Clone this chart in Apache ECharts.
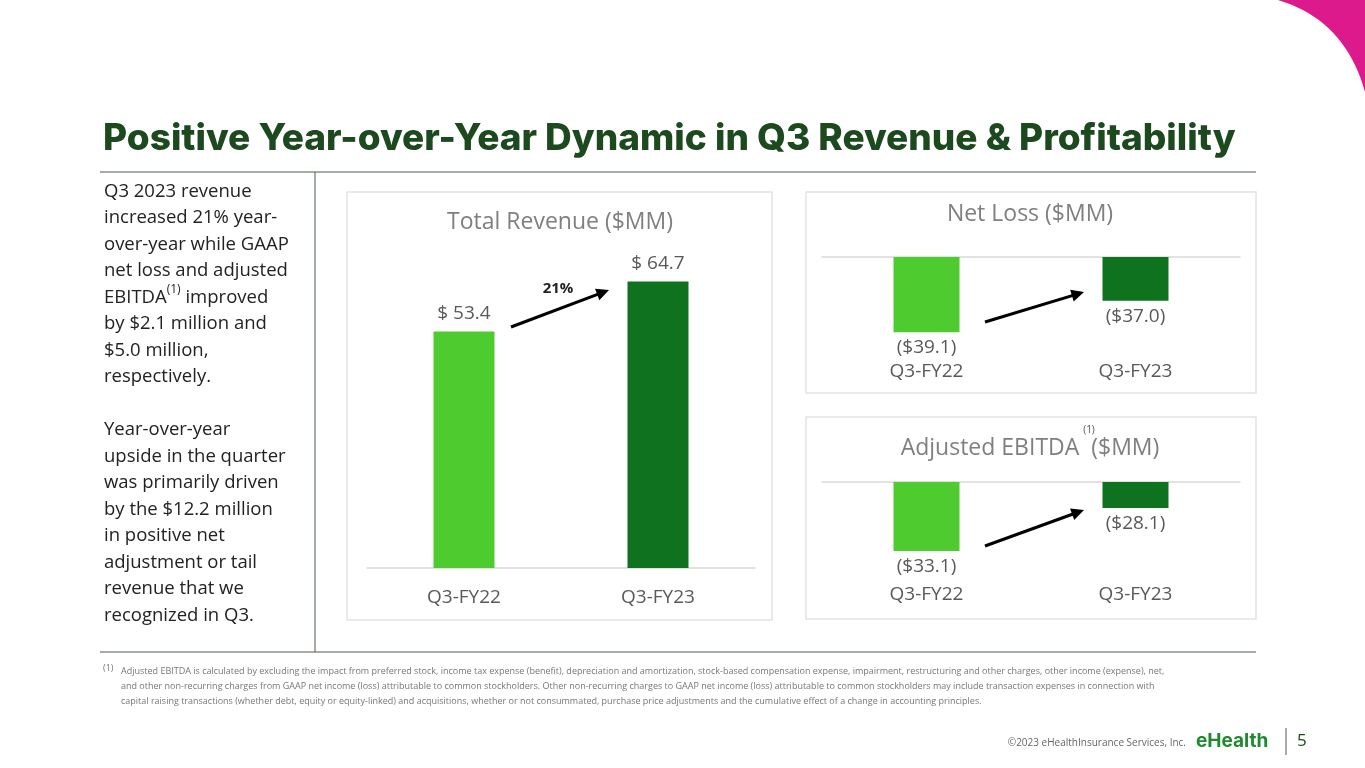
<!DOCTYPE html>
<html><head><meta charset="utf-8">
<script src="https://cdn.jsdelivr.net/npm/echarts@6/dist/echarts.min.js"></script>
<style>html,body{margin:0;padding:0;background:#fff}#c{width:1365px;height:768px}</style>
</head><body><div id="c"></div>
<script>
// data
const categories = ['Q3-FY22', 'Q3-FY23'];
const revenue = [53.4, 64.7];
const netLoss = [-39.1, -37.0];
const adjEbitda = [-33.1, -28.1];
const colors = ['#4ECB2F', '#0E721F'];

let chart = echarts.init(document.getElementById('c'));
const F = '"Open Sans", sans-serif';
const gray = '#595959';

function barData(vals) {
    return vals.map((v, i) => ({ value: v, itemStyle: { color: colors[i] } }));
}
function negLabel(p) {
    return '($' + Math.abs(p.value).toFixed(1) + ')';
}
function arrow(x1, y1, x2, y2) {
    const a = Math.atan2(y2 - y1, x2 - x1), L = 14, W = 0.45;
    return [
        { type: 'line', shape: { x1: x1, y1: y1, x2: x2 - 8 * Math.cos(a), y2: y2 - 8 * Math.sin(a) }, style: { stroke: '#000', lineWidth: 3 } },
        { type: 'polygon', shape: { points: [[x2, y2], [x2 - L * Math.cos(a - W), y2 - L * Math.sin(a - W)], [x2 - L * Math.cos(a + W), y2 - L * Math.sin(a + W)]] }, style: { fill: '#000' } }
    ];
}
const panel = (x, y, w, h) => ({ type: 'rect', shape: { x: x, y: y, width: w, height: h }, style: { fill: 'none', stroke: '#e3e3e3', lineWidth: 1.5 }, z: -1 });

// corner decoration outline (quadratic curve)
const corner = [[1365, 0], [1365, 92]];
for (let t = 0; t <= 1.0001; t += 0.05) {
    const x = (1 - t) * (1 - t) * 1365 + 2 * (1 - t) * t * 1345 + t * t * 1278;
    const y = (1 - t) * (1 - t) * 92 + 2 * (1 - t) * t * 20 + t * t * 0;
    corner.push([x, y]);
}

const leftText = 'Q3 2023 revenue\nincreased 21% year-\nover-year while GAAP\nnet loss and adjusted\nEBITDA{s|(1)} improved\nby $2.1 million and\n$5.0 million,\nrespectively.\n\nYear-over-year\nupside in the quarter\nwas primarily driven\nby the $12.2 million\nin positive net\nadjustment or tail\nrevenue that we\nrecognized in Q3.';
const foot = 'Adjusted EBITDA is calculated by excluding the impact from preferred stock, income tax expense (benefit), depreciation and amortization, stock-based compensation expense, impairment, restructuring and other charges, other income (expense), net,\nand other non-recurring charges from GAAP net income (loss) attributable to common stockholders. Other non-recurring charges to GAAP net income (loss) attributable to common stockholders may include transaction expenses in connection with\ncapital raising transactions (whether debt, equity or equity-linked) and acquisitions, whether or not consummated, purchase price adjustments and the cumulative effect of a change in accounting principles.';

const option = {
    animation: false,
    textStyle: { fontFamily: F },
    grid: [
        { left: 367, top: 258, width: 388, height: 310 },
        { left: 822, top: 257, width: 418, height: 88.6 },
        { left: 822, top: 482, width: 418, height: 85.3 }
    ],
    xAxis: [
        { gridIndex: 0, type: 'category', data: categories, axisTick: { show: false }, axisLine: { lineStyle: { color: '#d9d9d9', width: 1.5 } }, axisLabel: { color: gray, fontSize: 19, margin: 20 } },
        { gridIndex: 1, type: 'category', position: 'top', data: categories, axisTick: { show: false }, axisLine: { lineStyle: { color: '#d9d9d9', width: 1.5 } }, axisLabel: { show: false } },
        { gridIndex: 1, type: 'category', position: 'bottom', data: categories, axisTick: { show: false }, axisLine: { show: false }, axisLabel: { color: gray, fontSize: 19, margin: 16 } },
        { gridIndex: 2, type: 'category', position: 'top', data: categories, axisTick: { show: false }, axisLine: { lineStyle: { color: '#d9d9d9', width: 1.5 } }, axisLabel: { show: false } },
        { gridIndex: 2, type: 'category', position: 'bottom', data: categories, axisTick: { show: false }, axisLine: { show: false }, axisLabel: { color: gray, fontSize: 19, margin: 18 } }
    ],
    yAxis: [
        { gridIndex: 0, type: 'value', min: 0, max: 70, show: false },
        { gridIndex: 1, type: 'value', min: -40, max: -34.08, show: false },
        { gridIndex: 2, type: 'value', min: -35, max: -25.08, show: false }
    ],
    series: [
        { type: 'bar', xAxisIndex: 0, yAxisIndex: 0, barWidth: 61, data: barData(revenue),
          label: { show: true, position: 'top', distance: 8, color: gray, fontSize: 19, formatter: p => '$ ' + p.value.toFixed(1) } },
        { type: 'bar', xAxisIndex: 1, yAxisIndex: 1, barWidth: 66, clip: true, data: barData(netLoss),
          label: { show: true, position: 'bottom', distance: 6, color: gray, fontSize: 19, formatter: negLabel } },
        { type: 'bar', xAxisIndex: 3, yAxisIndex: 2, barWidth: 66, clip: true, data: barData(adjEbitda),
          label: { show: true, position: 'bottom', distance: 6, color: gray, fontSize: 19, formatter: negLabel } }
    ],
    graphic: [
        { type: 'polygon', shape: { points: corner }, style: { fill: '#DC1A8C' } },
        { type: 'text', left: 103, top: 120, style: { text: 'Positive Year-over-Year Dynamic in Q3 Revenue & Profitability', font: '800 37px "Inter", sans-serif', fill: '#1C4A1E' } },
        { type: 'line', shape: { x1: 100, y1: 172, x2: 1256, y2: 172 }, style: { stroke: '#4a5d4a', lineWidth: 1 } },
        { type: 'line', shape: { x1: 100, y1: 652, x2: 1256, y2: 652 }, style: { stroke: '#4a5d4a', lineWidth: 1 } },
        { type: 'line', shape: { x1: 315, y1: 172, x2: 315, y2: 652 }, style: { stroke: '#4a5d4a', lineWidth: 1 } },
        { type: 'text', left: 104, top: 178, style: { text: leftText, font: '18.5px ' + F, fill: '#222', lineHeight: 26.5, rich: { s: { fontSize: 12, verticalAlign: 'top', padding: [0, 0, 8, 0], fill: '#222', fontFamily: F } } } },
        panel(347, 192, 425, 428), panel(806, 192, 450, 201), panel(806, 417, 450, 202),
        { type: 'text', x: 560, y: 222, style: { text: 'Total Revenue ($MM)', font: '23px ' + F, fill: '#7f7f7f', align: 'center', verticalAlign: 'middle' } },
        { type: 'text', x: 1030, y: 214, style: { text: 'Net Loss ($MM)', font: '23px ' + F, fill: '#7f7f7f', align: 'center', verticalAlign: 'middle' } },
        { type: 'text', x: 1030, y: 448, style: { text: 'Adjusted EBITDA  ($MM)', font: '23px ' + F, fill: '#7f7f7f', align: 'center', verticalAlign: 'middle' } },
        { type: 'text', x: 1089, y: 430, style: { text: '(1)', font: '10px ' + F, fill: '#555', align: 'center', verticalAlign: 'middle' } },
        { type: 'text', x: 558, y: 289, style: { text: '21%', font: 'bold 15px ' + F, fill: '#222', align: 'center', verticalAlign: 'middle' } },
        ...arrow(511, 327, 609, 290),
        ...arrow(985, 322, 1084, 292),
        ...arrow(985, 546, 1084, 510),
        { type: 'text', left: 103, top: 664, style: { text: '(1)', font: '9px ' + F, fill: '#777' } },
        { type: 'text', left: 121, top: 664, style: { text: foot, font: '9px ' + F, fill: '#777', lineHeight: 15 } },
        { type: 'text', x: 1186, y: 743, style: { text: '©2023 eHealthInsurance Services, Inc.', font: '10px ' + F, fill: '#666', align: 'right', verticalAlign: 'middle' } },
        { type: 'text', x: 1196, y: 741, style: { text: 'eHealth', font: 'bold 19px "Inter", sans-serif', fill: '#1E8A2E', verticalAlign: 'middle' } },
        { type: 'line', shape: { x1: 1286, y1: 728, x2: 1286, y2: 755 }, style: { stroke: '#555', lineWidth: 1 } },
        { type: 'text', x: 1297, y: 741, style: { text: '5', font: '17px ' + F, fill: '#1C4A1E', verticalAlign: 'middle' } }
    ]
};
chart.setOption(option);
</script></body></html>
